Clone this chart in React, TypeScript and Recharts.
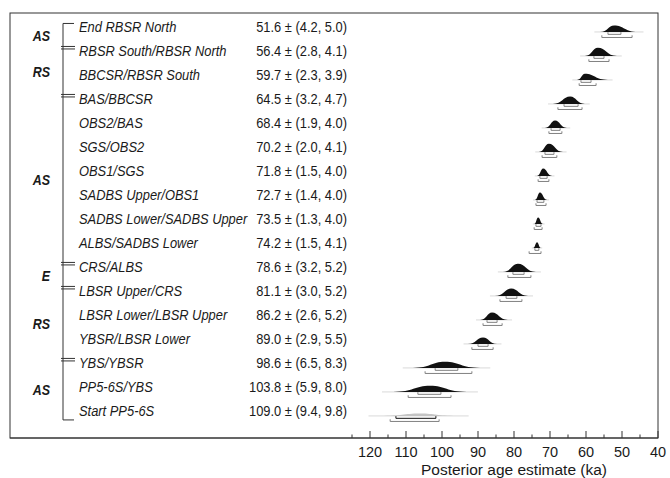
import React from 'react';
import { ComposedChart, XAxis, YAxis, Scatter, ReferenceArea } from 'recharts';

// ---- data ----
const ROW_LABELS = [
  'End RBSR North',
  'RBSR South/RBSR North',
  'BBCSR/RBSR South',
  'BAS/BBCSR',
  'OBS2/BAS',
  'SGS/OBS2',
  'OBS1/SGS',
  'SADBS Upper/OBS1',
  'SADBS Lower/SADBS Upper',
  'ALBS/SADBS Lower',
  'CRS/ALBS',
  'LBSR Upper/CRS',
  'LBSR Lower/LBSR Upper',
  'YBSR/LBSR Lower',
  'YBS/YBSR',
  'PP5-6S/YBS',
  'Start PP5-6S',
];
const MEANS = [51.6, 56.4, 59.7, 64.5, 68.4, 70.2, 71.8, 72.7, 73.5, 74.2, 78.6, 81.1, 86.2, 89.0, 98.6, 103.8, 109.0];
const ERR_A = [4.2, 2.8, 2.3, 3.2, 1.9, 2.0, 1.5, 1.4, 1.3, 1.5, 3.2, 3.0, 2.6, 2.9, 6.5, 5.9, 9.4];
const ERR_B = [5.0, 4.1, 3.9, 4.7, 4.0, 4.1, 4.0, 4.0, 4.0, 4.1, 5.2, 5.2, 5.2, 5.5, 8.3, 8.0, 9.8];

// posterior distribution: mode, old end, young end, relative peak density
const MODES = [52.2, 56.7, 60.3, 64.4, 68.6, 70.3, 71.9, 72.8, 73.3, 73.6, 78.9, 80.8, 86.1, 88.6, 99.2, 103.3, 106.1];
const DIST_OLD = [56.1, 60.3, 62.5, 69.2, 71.4, 73.1, 73.6, 74.2, 74.4, 74.7, 83.1, 85.3, 89.4, 92.8, 108.1, 113.6, 117.2];
const DIST_YOUNG = [45.6, 51.4, 53.9, 60.3, 65.3, 66.4, 69.4, 70.8, 71.9, 72.5, 73.9, 76.1, 81.7, 84.7, 89.4, 93.1, 95.8];
const PEAK = [0.8, 1.0, 0.75, 0.9, 0.9, 1.0, 0.9, 0.9, 0.8, 0.7, 1.0, 0.9, 0.9, 0.8, 0.75, 0.75, 0.3];

// 68.2% and 95.4% ranges
const INNER_OLD = [53.9, 57.8, 61.4, 66.1, 69.7, 71.4, 72.8, 73.6, 73.9, 74.2, 80.3, 82.2, 87.5, 90.0, 101.9, 106.7, 112.8];
const INNER_YOUNG = [50.3, 55.0, 58.6, 62.2, 67.2, 68.9, 70.8, 71.7, 72.5, 73.1, 77.2, 79.2, 84.7, 87.2, 95.6, 100.3, 101.7];
const OUTER_OLD = [55.6, 59.2, 61.9, 67.8, 70.3, 72.2, 73.3, 73.9, 74.4, 75.8, 81.7, 83.9, 88.6, 91.7, 104.7, 109.4, 114.4];
const OUTER_YOUNG = [47.2, 53.6, 57.2, 61.1, 66.7, 68.1, 70.3, 71.1, 72.2, 72.5, 75.3, 77.8, 83.3, 85.8, 91.7, 97.5, 100.8];

const GROUP_NAMES = ['AS', 'RS', 'AS', 'E', 'RS', 'AS'];
const GROUP_STARTS = [0, 1, 3, 10, 11, 14, 16]; // last entry = final row

const X_TICKS = [40, 45, 50, 55, 60, 65, 70, 75, 80, 85, 90, 95, 100, 105, 110, 115, 120, 125];
const X_TITLE = 'Posterior age estimate (ka)';

// ---- layout ----
const W = 670;
const H = 478;
const M = { top: 13, right: 12, bottom: 10, left: 10 };
const XH = 30;
const X_DOMAIN: [number, number] = [40, 220];
const Y_DOMAIN: [number, number] = [-0.79, 16.92];
const PLOT_H = H - M.top - M.bottom - XH;
const ROW_PX = PLOT_H / (Y_DOMAIN[1] - Y_DOMAIN[0]);
const LAST = ROW_LABELS.length - 1;

const FONT = '"Liberation Sans", Arial, sans-serif';
const NARROW = 0.86;
const INK = '#1a1a1a';
const FRAME = '#333';

const rows = ROW_LABELS.map((name, i) => ({ name, row: i, mean: MEANS[i] }));

const markOffset = (i: number) => (i === LAST ? 4 : -8.25);

// condensed text (Helvetica-Narrow look) drawn at (x, y)
const NText = (p: any) => {
  const { x, y, children, ...rest } = p;
  return (
    <text transform={`translate(${x},${y}) scale(${NARROW},1)`} x={0} y={0} fontFamily={FONT} fill={INK} {...rest}>
      {children}
    </text>
  );
};

const RowTick = (props: any) => {
  const { y, payload } = props;
  const x = M.left;
  const i = payload.value as number;
  const bx = x + 53;
  const els: React.ReactNode[] = [];
  els.push(
    <NText key="l" x={x + 69} y={y} fontSize={15} fontStyle="italic">
      {ROW_LABELS[i]}
    </NText>
  );
  els.push(
    <NText key="v" x={x + 337} y={y} fontSize={15} textAnchor="end">
      {`${MEANS[i].toFixed(1)} \u00b1 (${ERR_A[i].toFixed(1)}, ${ERR_B[i].toFixed(1)})`}
    </NText>
  );
  const gi = GROUP_STARTS.indexOf(i);
  if (gi >= 0) {
    if (i === 0) {
      els.push(<line key="m" x1={bx} x2={bx + 11} y1={y - 8.5} y2={y - 8.5} stroke={FRAME} strokeWidth={1} />);
      els.push(
        <line key="vl" x1={bx} x2={bx} y1={y - 8.5} y2={y + LAST * ROW_PX + markOffset(LAST)} stroke={FRAME} strokeWidth={1} />
      );
    } else if (i === LAST) {
      els.push(<line key="m" x1={bx} x2={bx + 11} y1={y + 4} y2={y + 4} stroke={FRAME} strokeWidth={1} />);
    } else {
      els.push(<line key="m1" x1={bx - 2} x2={bx + 12} y1={y - 9.5} y2={y - 9.5} stroke={FRAME} strokeWidth={1} />);
      els.push(<line key="m2" x1={bx - 2} x2={bx + 12} y1={y - 7} y2={y - 7} stroke={FRAME} strokeWidth={1} />);
    }
    if (gi < GROUP_NAMES.length) {
      const next = GROUP_STARTS[gi + 1];
      const top = y + markOffset(i);
      const bot = y + (next - i) * ROW_PX + markOffset(next);
      const cy = (top + bot) / 2;
      els.push(
        <NText key="g" x={x + 40} y={cy + 5} textAnchor="end" fontSize={14.5} fontWeight="bold" fontStyle="italic">
          {GROUP_NAMES[gi]}
        </NText>
      );
    }
  }
  return <g>{els}</g>;
};

const XTick = (props: any) => {
  const { x, y, payload } = props;
  const v = payload.value as number;
  const major = v % 10 === 0;
  return (
    <g>
      <line x1={x} x2={x} y1={y} y2={y - (major ? 7 : 3.5)} stroke={FRAME} strokeWidth={1} />
      {major && (
        <text x={x} y={y + 19} textAnchor="middle" fontFamily={FONT} fontSize={14.5} fill={INK}>
          {v}
        </text>
      )}
      {v === 80 && (
        <text x={x} y={y + 37} textAnchor="middle" fontFamily={FONT} fontSize={15.5} fill={INK}>
          {X_TITLE}
        </text>
      )}
    </g>
  );
};

const Bump = (p: any) => {
  const { x, y, width, height, frac, color } = p;
  const L = x;
  const R = x + width;
  const P = x + frac * width;
  const top = y;
  const base = y + height;
  const a = P - L;
  const b = R - P;
  const d = `M${L},${base} C${L + 0.55 * a},${base} ${P - 0.42 * a},${top} ${P},${top} C${P + 0.42 * b},${top} ${R - 0.55 * b},${base} ${R},${base} Z`;
  return (
    <g>
      <line x1={L - 0.15 * width} x2={R + 0.15 * width} y1={base} y2={base} stroke="#d0d0d0" strokeWidth={0.8} />
      <path d={d} fill={color} stroke="none" />
    </g>
  );
};

const Bracket = (p: any) => {
  const { x, y, width, height, color } = p;
  const b = y + height;
  return (
    <path d={`M${x},${y} L${x},${b} L${x + width},${b} L${x + width},${y}`} fill="none" stroke={color} strokeWidth={1} />
  );
};

export default function App() {
  return (
    <div style={{ position: 'absolute', left: 0, top: 0, width: W, height: H, background: '#fff' }}>
      <ComposedChart width={W} height={H} margin={M} data={rows}>
        <XAxis
          type="number"
          dataKey="mean"
          domain={X_DOMAIN}
          reversed
          allowDataOverflow
          ticks={X_TICKS}
          interval={0}
          height={XH}
          tickSize={0}
          tickMargin={0}
          tickLine={false}
          axisLine={{ stroke: FRAME, strokeWidth: 1 }}
          tick={<XTick />}
        />
        <YAxis
          type="number"
          dataKey="row"
          domain={Y_DOMAIN}
          reversed
          mirror
          allowDataOverflow
          ticks={rows.map((r) => r.row)}
          interval={0}
          width={60}
          tickSize={0}
          tickMargin={0}
          tickLine={false}
          axisLine={false}
          tick={<RowTick />}
        />
        <ReferenceArea
          x1={X_DOMAIN[1]}
          x2={X_DOMAIN[0]}
          y1={Y_DOMAIN[0]}
          y2={Y_DOMAIN[1]}
          ifOverflow="visible"
          shape={(p: any) => <rect x={p.x} y={p.y} width={p.width} height={p.height} fill="none" stroke={FRAME} strokeWidth={1} />}
        />
        {rows.map((r, i) => (
          <ReferenceArea
            key={`d${i}`}
            x1={DIST_OLD[i]}
            x2={DIST_YOUNG[i]}
            y1={i}
            y2={i - 0.34 * PEAK[i]}
            ifOverflow="visible"
            shape={(p: any) => (
              <Bump
                {...p}
                frac={(DIST_OLD[i] - MODES[i]) / (DIST_OLD[i] - DIST_YOUNG[i])}
                color={i === LAST ? '#c4c4c4' : '#111'}
              />
            )}
          />
        ))}
        {rows.map((r, i) => (
          <ReferenceArea
            key={`i${i}`}
            x1={INNER_OLD[i]}
            x2={INNER_YOUNG[i]}
            y1={i + 0.01}
            y2={i + 0.1}
            ifOverflow="visible"
            shape={(p: any) => <Bracket {...p} color={i === LAST ? '#111' : '#808080'} />}
          />
        ))}
        {rows.map((r, i) => (
          <ReferenceArea
            key={`o${i}`}
            x1={OUTER_OLD[i]}
            x2={OUTER_YOUNG[i]}
            y1={i + 0.14}
            y2={i + 0.23}
            ifOverflow="visible"
            shape={(p: any) => <Bracket {...p} color="#808080" />}
          />
        ))}
        <Scatter dataKey="row" isAnimationActive={false} shape={() => <g />} />
      </ComposedChart>
    </div>
  );
}
